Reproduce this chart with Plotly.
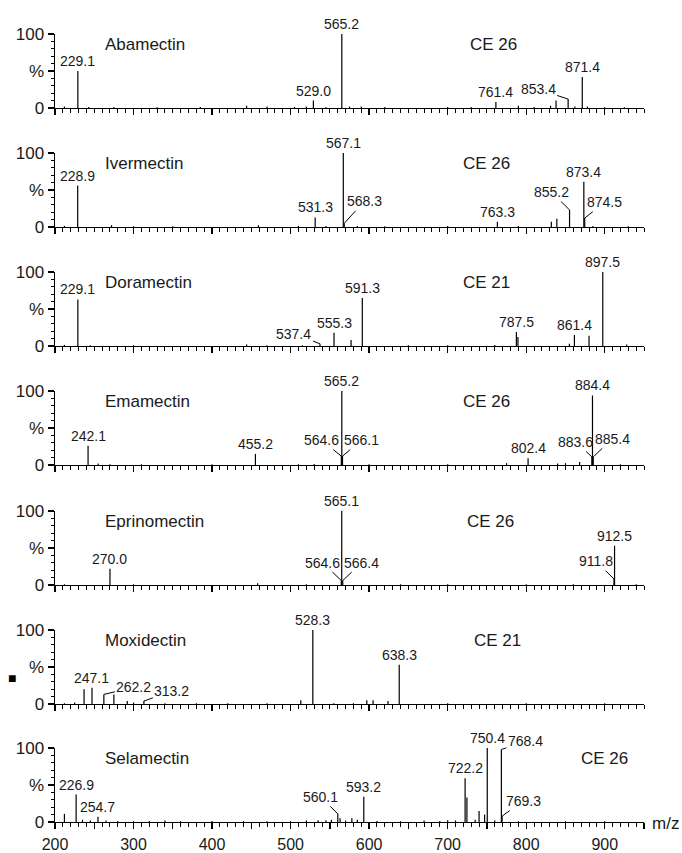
import plotly.graph_objects as go

# ---------------- data ----------------
names = ["Abamectin", "Ivermectin", "Doramectin", "Emamectin", "Eprinomectin", "Moxidectin", "Selamectin"]
ce_labels = ["CE 26", "CE 26", "CE 21", "CE 26", "CE 26", "CE 21", "CE 26"]

aba_mz = [212, 229.1, 243, 275, 330, 385, 444, 470, 505, 520, 529.0, 545, 565.2, 575, 590, 620, 700, 730, 761.4, 790, 810, 831, 838, 853.4, 862, 871.4, 878, 900, 925]
aba_int = [2, 50, 1.5, 1.5, 1, 1.5, 3, 2, 1.5, 2, 10, 1.5, 100, 2, 2, 1.5, 1.5, 1.5, 8, 3, 1.5, 3, 10, 12, 2, 42, 2, 1, 1]
aba_lab = [229.1, 529.0, 565.2, 761.4, 853.4, 871.4]

ive_mz = [212, 228.9, 272, 300, 350, 459, 510, 531.3, 545, 567.1, 568.3, 585, 620, 700, 763.3, 790, 832, 839, 855.2, 873.4, 874.5, 885, 930]
ive_int = [1.5, 56, 2.5, 1, 1, 2.5, 1.5, 13, 1.5, 100, 5, 1.5, 1, 1.5, 7, 1.5, 7, 11, 23, 61, 12, 1.5, 1]
ive_lab = [228.9, 531.3, 567.1, 568.3, 763.3, 855.2, 873.4, 874.5]

dor_mz = [212, 229.1, 245, 300, 444, 470, 515, 537.4, 555.3, 577, 591.3, 650, 700, 760, 787.5, 789.5, 855, 861.4, 880, 897.5, 928]
dor_int = [1.5, 63, 1, 1, 2, 1, 1, 3, 18, 8, 65, 1, 1, 1.5, 19, 12, 3, 15, 14, 100, 2]
dor_lab = [229.1, 537.4, 555.3, 591.3, 787.5, 861.4, 897.5]

ema_mz = [242.1, 255, 270, 310, 400, 455.2, 510, 530, 564.6, 565.2, 566.1, 600, 700, 775, 802.4, 840, 850, 868, 883.6, 884.4, 885.4, 920]
ema_int = [26, 2, 1, 1, 1, 15, 1, 1.5, 12, 100, 12, 1, 1, 2.5, 9, 2, 2.5, 4, 11, 94, 11, 1]
ema_lab = [242.1, 455.2, 564.6, 565.2, 566.1, 802.4, 883.6, 884.4, 885.4]

epr_mz = [212, 270.0, 300, 458, 520, 564.6, 565.1, 566.4, 640, 700, 800, 860, 911.8, 912.5, 940]
epr_int = [1, 22, 1, 2.5, 1, 6, 100, 6, 1, 1, 1, 1, 8, 53, 1]
epr_lab = [270.0, 564.6, 565.1, 566.4, 911.8, 912.5]

mox_mz = [212, 225, 237, 247.1, 262.2, 275, 292, 300, 313.2, 340, 380, 420, 470, 513, 528.3, 555, 580, 597, 605, 624, 638.3, 700, 800, 900]
mox_int = [1, 2, 20, 22, 13, 13, 4, 2, 4, 1, 1, 1, 1, 5, 100, 1, 1, 5, 5, 4, 53, 1, 1, 1]
mox_lab = [247.1, 262.2, 313.2, 528.3, 638.3]

sel_mz = [212, 226.9, 235, 245, 254.7, 265, 280, 300, 320, 340, 360, 400, 440, 470, 500, 520, 535, 545, 552, 560.1, 563, 570, 578, 585, 593.2, 610, 640, 670, 690, 700, 710, 722.2, 724.5, 735, 740, 747, 750.4, 760, 768.4, 769.3, 790, 850, 900]
sel_int = [11, 37, 3, 2, 7, 2, 1.5, 1, 1.5, 2, 1, 1.5, 1, 1, 1, 2, 2.5, 2.5, 3, 11, 5, 2, 5, 3, 34, 1.5, 1, 2, 1.5, 2.5, 2, 59, 33, 3, 15, 10, 100, 2, 98, 8, 1, 1, 1]
sel_lab = [226.9, 254.7, 560.1, 593.2, 722.2, 750.4, 768.4, 769.3]

x_ticks = list(range(200, 951, 50))
x_ticktext = [str(v) if v % 100 == 0 and v < 950 else "" for v in x_ticks]
y_ticks = [0, 50, 100]
y_ticktext = ["0", "%", "100"]

spectra = [
    (aba_mz, aba_int, aba_lab),
    (ive_mz, ive_int, ive_lab),
    (dor_mz, dor_int, dor_lab),
    (ema_mz, ema_int, ema_lab),
    (epr_mz, epr_int, epr_lab),
    (mox_mz, mox_int, mox_lab),
    (sel_mz, sel_int, sel_lab),
]

# ---------------- layout / style ----------------
W, H = 682, 853
X0, X1 = 55, 644
baselines = [108, 227, 346, 465, 585, 704, 822]
PH = 74
FONT = "Liberation Sans, Arial, sans-serif"
TXT = "#1a1a1a"
name_x = 261
ce_x = [758, 749, 750, 750, 755, 763, 900]
label_y = 86

# leader-line label offsets in pixels (panel, m/z) -> (ax, ay)
leaders = {
    (0, 853.4): (-30, -10),
    (1, 568.3): (20, -22), (1, 855.2): (-18, -18), (1, 874.5): (20, -16),
    (2, 537.4): (-26, -10),
    (3, 564.6): (-20, -16), (3, 566.1): (19, -16), (3, 883.6): (-16, -15), (3, 885.4): (19, -18),
    (4, 564.6): (-19, -18), (4, 566.4): (19, -18), (4, 911.8): (-18, -18),
    (5, 262.2): (30, -7), (5, 313.2): (28, -10),
    (6, 560.1): (-17, -17), (6, 768.4): (24, -8), (6, 769.3): (21, -15),
}

fig = go.Figure()
layout = dict(
    template="none",
    width=W, height=H,
    margin=dict(l=0, r=0, t=0, b=0, autoexpand=False),
    paper_bgcolor="white", plot_bgcolor="white",
    showlegend=False, hovermode=False,
    font=dict(family=FONT, color=TXT),
)
annotations = []

for i, (mz, inten, labs) in enumerate(spectra):
    sfx = "" if i == 0 else str(i + 1)
    xa, ya = "x" + sfx, "y" + sfx
    xs, ys = [], []
    for m, h in zip(mz, inten):
        xs += [m, m, None]
        ys += [0, h, None]
    fig.add_trace(go.Scatter(x=xs, y=ys, mode="lines",
                             line=dict(color="black", width=1.2),
                             xaxis=xa, yaxis=ya, hoverinfo="skip"))
    b = baselines[i]
    layout["xaxis" + sfx] = dict(
        domain=[X0 / W, X1 / W], range=[200, 950], anchor=ya, automargin=False,
        showline=True, linecolor="black", linewidth=1.4,
        showgrid=False, zeroline=False, fixedrange=True,
        tickmode="array", tickvals=x_ticks, ticktext=x_ticktext,
        ticks="outside", ticklen=6, tickwidth=1.3, tickcolor="black",
        minor=dict(tickmode="linear", tick0=200, dtick=10, ticks="outside",
                   ticklen=4, tickwidth=1, tickcolor="black", showgrid=False),
        showticklabels=(i == 6), tickfont=dict(size=16, family=FONT, color=TXT),
        ticklabelstandoff=1,
    )
    layout["yaxis" + sfx] = dict(
        domain=[1 - b / H, 1 - (b - PH) / H], range=[0, 100], anchor=xa, automargin=False,
        showline=True, linecolor="black", linewidth=1.4,
        showgrid=False, zeroline=False, fixedrange=True,
        tickmode="array", tickvals=y_ticks, ticktext=y_ticktext,
        ticks="outside", ticklen=6, tickwidth=1.3, tickcolor="black",
        minor=dict(tickmode="linear", tick0=0, dtick=10, ticks="outside",
                   ticklen=3, tickwidth=1, tickcolor="black", showgrid=False),
        tickfont=dict(size=17, family=FONT, color=TXT),
    )
    # compound name and CE
    annotations.append(dict(xref=xa, yref=ya, x=name_x, y=label_y, text=names[i],
                            showarrow=False, xanchor="left", yanchor="middle",
                            font=dict(size=17, family=FONT, color=TXT)))
    annotations.append(dict(xref=xa, yref=ya, x=ce_x[i], y=label_y, text=ce_labels[i],
                            showarrow=False, xanchor="center", yanchor="middle",
                            font=dict(size=17, family=FONT, color=TXT)))
    lookup = dict(zip(mz, inten))
    for m in labs:
        h = lookup[m]
        key = (i, m)
        if key in leaders:
            ax, ay = leaders[key]
            annotations.append(dict(xref=xa, yref=ya, x=m, y=h, text=f"{m:.1f}",
                                    showarrow=True, arrowhead=0, arrowwidth=1,
                                    arrowcolor="black", ax=ax, ay=ay, standoff=0,
                                    font=dict(size=14, family=FONT, color=TXT)))
        else:
            annotations.append(dict(xref=xa, yref=ya, x=m, y=h, text=f"{m:.1f}",
                                    showarrow=False, xanchor="center", yanchor="bottom",
                                    yshift=0,
                                    font=dict(size=14, family=FONT, color=TXT)))

annotations.append(dict(xref="paper", yref="paper", x=650 / W, y=1 - 823 / H, text="m/z",
                        showarrow=False, xanchor="left", yanchor="middle",
                        font=dict(size=17, family=FONT, color=TXT)))
annotations.append(dict(xref="paper", yref="paper", x=11.5 / W, y=1 - 678 / H, text="■",
                        showarrow=False, xanchor="center", yanchor="middle",
                        font=dict(size=14, family=FONT, color="black")))

layout["annotations"] = annotations
fig.update_layout(**layout)
fig.write_html("out.html",
               config={"displayModeBar": False, "staticPlot": True},
               post_script="document.body.style.margin='0';document.body.style.overflow='hidden';")
